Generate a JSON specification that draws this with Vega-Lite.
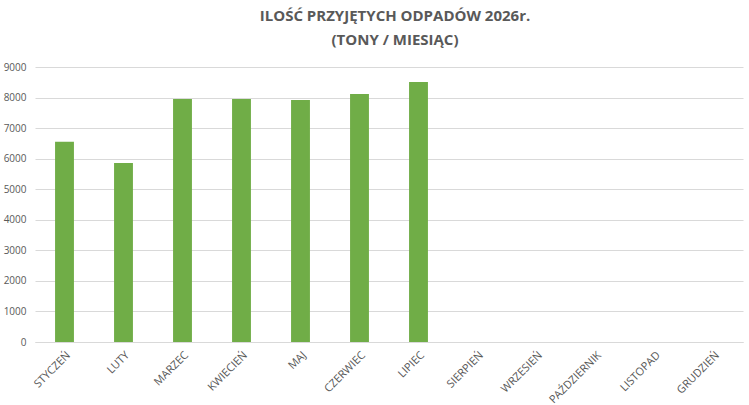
{
  "$schema": "https://vega.github.io/schema/vega-lite/v6.json",
  "width": 708,
  "height": 275,
  "autosize": {"type": "none"},
  "padding": {"left": 35, "top": 67, "right": 6, "bottom": 63},
  "background": "white",
  "title": {
    "text": ["ILOŚĆ PRZYJĘTYCH ODPADÓW 2026r.", "(TONY / MIESIĄC)"],
    "font": "Open Sans",
    "fontSize": 15,
    "fontWeight": "bold",
    "color": "#595959",
    "anchor": "middle",
    "frame": "group",
    "offset": 14,
    "lineHeight": 24,
    "dx": 6
  },
  "data": {
    "values": [
      {"miesiac": "STYCZEŃ", "tony": 6550},
      {"miesiac": "LUTY", "tony": 5860},
      {"miesiac": "MARZEC", "tony": 7950},
      {"miesiac": "KWIECIEŃ", "tony": 7950},
      {"miesiac": "MAJ", "tony": 7920},
      {"miesiac": "CZERWIEC", "tony": 8115},
      {"miesiac": "LIPIEC", "tony": 8510},
      {"miesiac": "SIERPIEŃ", "tony": null},
      {"miesiac": "WRZESIEŃ", "tony": null},
      {"miesiac": "PAŹDZIERNIK", "tony": null},
      {"miesiac": "LISTOPAD", "tony": null},
      {"miesiac": "GRUDZIEŃ", "tony": null}
    ]
  },
  "mark": {"type": "bar", "color": "#70ad47"},
  "encoding": {
    "x": {
      "field": "miesiac",
      "type": "nominal",
      "sort": null,
      "scale": {
        "domain": ["STYCZEŃ", "LUTY", "MARZEC", "KWIECIEŃ", "MAJ", "CZERWIEC", "LIPIEC", "SIERPIEŃ", "WRZESIEŃ", "PAŹDZIERNIK", "LISTOPAD", "GRUDZIEŃ"],
        "paddingInner": 0.68,
        "paddingOuter": 0.34
      },
      "axis": {
        "title": null,
        "labelAngle": -45,
        "labelFont": "Open Sans",
        "labelFontSize": 11,
        "labelColor": "#595959",
        "ticks": false,
        "domainColor": "#d9d9d9",
        "labelPadding": 7,
        "labelOffset": 0,
        "labelOverlap": false
      }
    },
    "y": {
      "field": "tony",
      "type": "quantitative",
      "scale": {"domain": [0, 9000], "nice": false},
      "axis": {
        "title": null,
        "values": [0, 1000, 2000, 3000, 4000, 5000, 6000, 7000, 8000, 9000],
        "format": "d",
        "labelOverlap": false,
        "labelFont": "Open Sans",
        "labelFontSize": 10,
        "labelColor": "#595959",
        "ticks": false,
        "domain": false,
        "gridColor": "#d9d9d9",
        "labelPadding": 9
      }
    }
  },
  "config": {"view": {"stroke": null}}
}
